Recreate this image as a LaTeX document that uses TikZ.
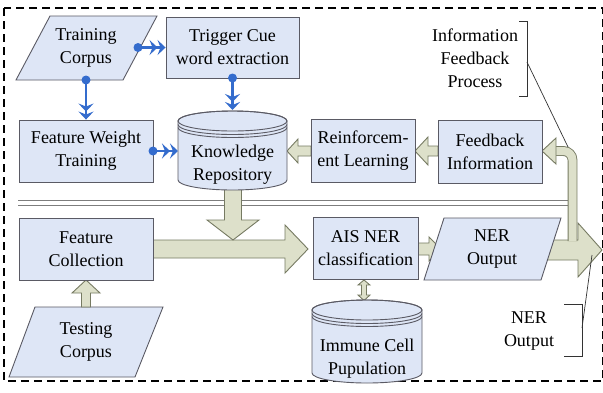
\documentclass[tikz,border=0pt]{standalone}
\usepackage{fontspec}
\setmainfont{Liberation Serif}
\usetikzlibrary{arrows.meta,calc}
\definecolor{boxfill}{RGB}{222,230,246}
\definecolor{boxedge}{RGB}{90,90,100}
\definecolor{arrfill}{RGB}{221,224,202}
\definecolor{arredge}{RGB}{118,122,98}
\definecolor{blueline}{RGB}{52,108,205}
\definecolor{sepline}{RGB}{125,125,125}
\newcommand\myHarrow[6]{% tail x, tip x, y, shaft hw, head hw, head len
  \pgfmathsetmacro\myhbx{(#2>#1) ? #2-#6 : #2+#6}
  \filldraw[blockarr] (#1,#3-#4) -- (\myhbx,#3-#4) -- (\myhbx,#3-#5) -- (#2,#3)
    -- (\myhbx,#3+#5) -- (\myhbx,#3+#4) -- (#1,#3+#4) -- cycle;}
\newcommand\myVarrow[6]{% x, tail y, tip y, shaft hw, head hw, head len
  \pgfmathsetmacro\myvby{(#3>#2) ? #3-#6 : #3+#6}
  \filldraw[blockarr] (#1-#4,#2) -- (#1-#4,\myvby) -- (#1-#5,\myvby) -- (#1,#3)
    -- (#1+#5,\myvby) -- (#1+#4,\myvby) -- (#1+#4,#2) -- cycle;}
\newcommand\myCyl[5]{% cx, rx, ytop, ybot, ry  (y axis points down)
  \filldraw[cylshape] (#1-#2,#3) -- (#1-#2,#4) arc[start angle=180,end angle=0,x radius=#2,y radius=#5]
    -- (#1+#2,#3) arc[start angle=0,end angle=-180,x radius=#2,y radius=#5] -- cycle;
  \draw[cylshape,fill=none] (#1,#3) ellipse[x radius=#2,y radius=#5];
  \draw[cylshape,fill=none] (#1-#2,#3+3.5) arc[start angle=180,end angle=0,x radius=#2,y radius=#5];
  \draw[cylshape,fill=none] (#1-#2,#3+6.5) arc[start angle=180,end angle=0,x radius=#2,y radius=#5];}
\begin{document}
\begin{tikzpicture}[x=1pt,y=-1pt,
  txt/.style={font=\fontsize{18}{23}\selectfont, align=center, inner sep=0pt},
  box/.style={txt, draw=boxedge, fill=boxfill, line width=0.9pt},
  parashape/.style={draw=boxedge, fill=boxfill, line width=0.9pt},
  cylshape/.style={draw=boxedge, fill=boxfill, line width=0.9pt},
  blockarr/.style={draw=arredge, fill=arrfill, line width=0.9pt, line join=miter},
  bluearr/.style={draw=blueline, line width=2.8pt,
    arrows={-Stealth[length=8pt,width=15pt,inset=3pt] Stealth[length=8pt,width=15pt,inset=3pt]}},
  bluedot/.style={fill=blueline},
  sep/.style={draw=sepline, line width=1pt},
  thinline/.style={draw=black!80, line width=0.7pt}]
\useasboundingbox (0,0) rectangle (603,392);
\fill[white] (0,0) rectangle (603,392);
% outer dashed frame
\draw[black, line width=1.3pt, dash pattern=on 8pt off 5pt] (4,8) rectangle (603,381);
% separator double line
\draw[sep] (18,200) -- (570,200);
\draw[sep] (18,205) -- (570,205);
% parallelograms
\filldraw[parashape] (50,16) -- (157,16) -- (123,80) -- (16,80) -- cycle;
\node[txt] (tc) at (86,48) {Training\\Corpus};
\filldraw[parashape] (35,307) -- (163,307) -- (135,377) -- (9,377) -- cycle;
\node[txt] (tst) at (86,342) {Testing\\Corpus};
% block arrows
\myHarrow{153}{308}{249}{9}{24}{23}
\myVarrow{233}{185}{240}{8.5}{26}{20}
\myHarrow{418}{441}{249}{6}{12}{12}
\myHarrow{535}{602}{250}{10}{27}{24}
\draw[draw=arredge, double=arrfill, double distance=8pt, line width=0.9pt, rounded corners=9pt]
  (572.5,241) -- (572.5,151) -- (555,151);
\filldraw[blockarr] (542,151) -- (556,138) -- (556,164) -- cycle;
\myHarrow{438}{415}{151}{5}{14}{13}
\myHarrow{311}{287}{151}{5}{12}{11}
\myVarrow{86}{307}{280}{4.5}{14}{13}
\filldraw[blockarr] (364,280) -- (370,285) -- (366.5,285) -- (366.5,295) -- (370,295) -- (364,300.5)
  -- (358,295) -- (361.5,295) -- (361.5,285) -- (358,285) -- cycle;
% NER output parallelogram
\filldraw[parashape] (444,218) -- (561,218) -- (541,280) -- (424,280) -- cycle;
\node[txt] (nero) at (492,249) {NER\\Output};
% boxes
\node[box, minimum width=133pt, minimum height=61pt] (trig) at (232.5,47.5) {Trigger Cue\\word extraction};
\node[box, minimum width=134pt, minimum height=62pt] (fwt) at (86,151) {Feature Weight\\Training};
\node[box, minimum width=104pt, minimum height=63pt] (reinf) at (363,150.5) {Reinforcem-\\ent Learning};
\node[box, minimum width=104pt, minimum height=63pt] (fbi) at (490,151.5) {Feedback\\Information};
\node[box, minimum width=134pt, minimum height=62pt] (fc) at (86,249) {Feature\\Collection};
\node[box, minimum width=105pt, minimum height=62pt] (ais) at (365.5,248) {AIS NER\\classification};
% cylinders
\myCyl{232.5}{54.5}{121}{180}{10}
\node[txt] (kr) at (232.5,165) {Knowledge\\Repository};
\myCyl{367}{55}{310}{373}{10}
\node[txt] (imm) at (367,358.5) {Immune Cell\\Pupulation};
% blue arrows
\coordinate (tcr) at (138,47.5);
\coordinate (tcb) at (86,80);
\coordinate (krt) at (232.5,110);
\coordinate (krl) at (178,151);
\coordinate (trigb) at (232.5,78);
\coordinate (fwte) at (153,151);
\draw[bluearr] (tcr) -- (trig.west);
\draw[bluearr] (tcb) -- (fwt.north);
\draw[bluearr] (trigb) -- (krt);
\draw[bluearr] (fwte) -- (krl);
\fill[bluedot] (tcr) circle (4.5pt);
\fill[bluedot] (tcb) circle (4.5pt);
\fill[bluedot] (trigb) circle (4.5pt);
\fill[bluedot] (fwte) circle (4.5pt);
% annotations
\node[txt] (ifp) at (475,58) {Information\\Feedback\\Process};
\draw[thinline] (519,21) -- (527,21) -- (527,96) -- (519,96);
\coordinate (ifpb) at (527,62);
\coordinate (fbbar) at (568,147);
\draw[thinline] (ifpb) -- (fbbar);
\node[txt] (nerl) at (529,331) {NER\\Output};
\draw[thinline] (564,304) -- (582,304) -- (582,356) -- (564,356);
\coordinate (nerb) at (582,328);
\coordinate (outarr) at (592,255);
\draw[thinline] (nerb) -- (outarr);
\end{tikzpicture}
\end{document}
